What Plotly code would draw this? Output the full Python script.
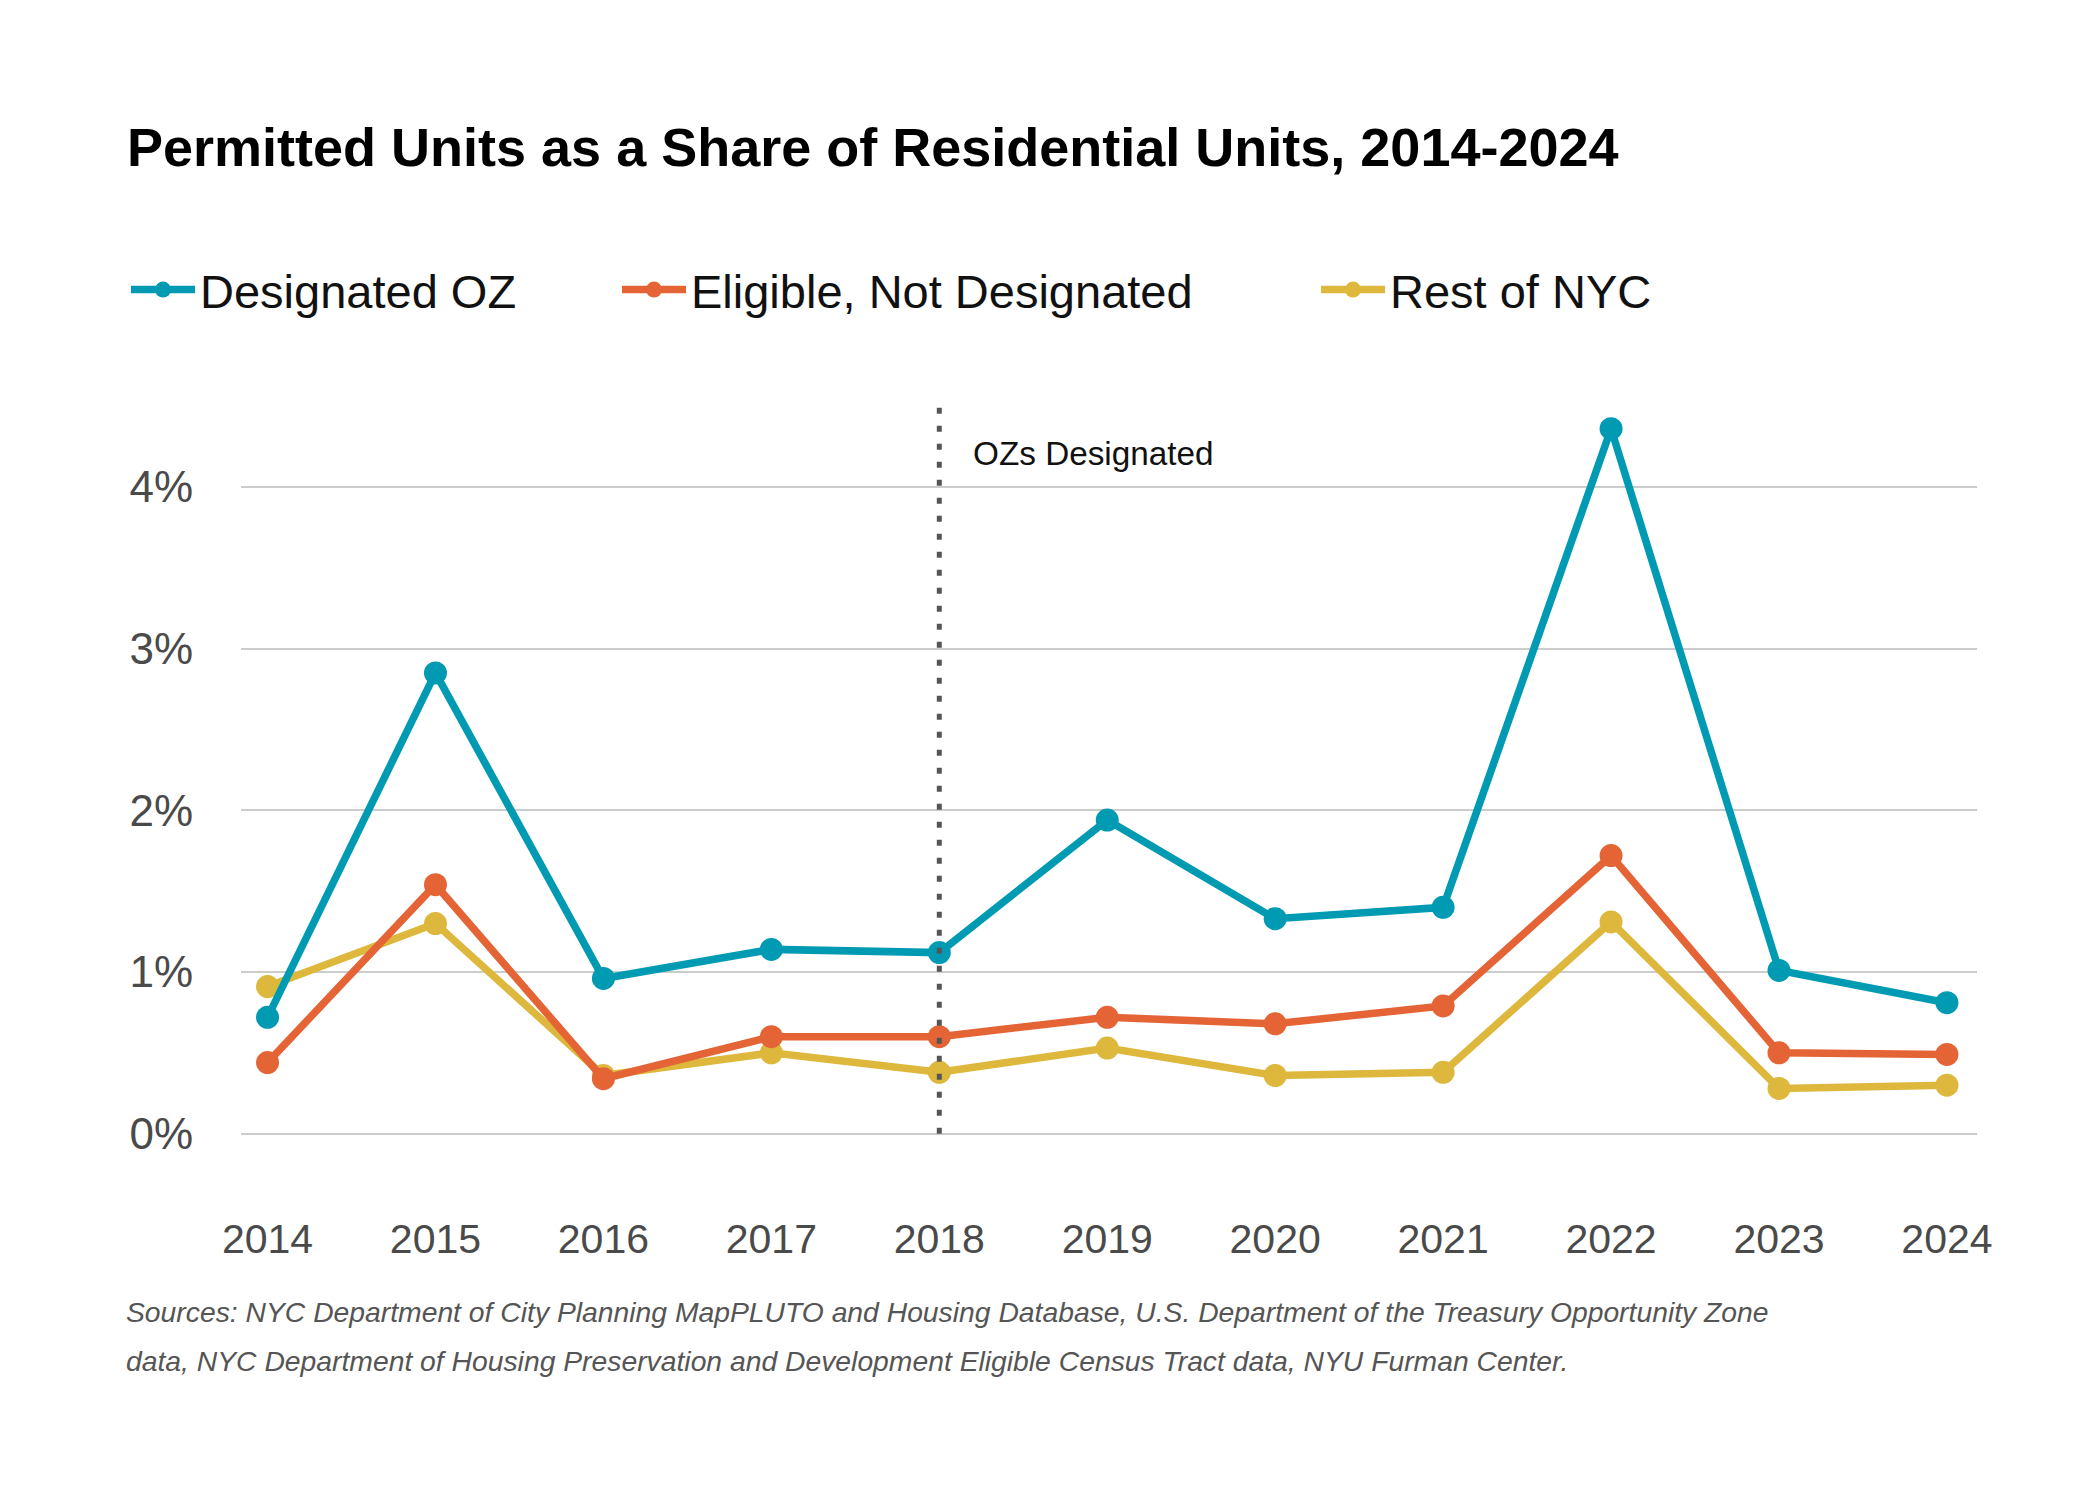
import plotly.graph_objects as go

years = [2014, 2015, 2016, 2017, 2018, 2019, 2020, 2021, 2022, 2023, 2024]
designated_oz = [0.72, 2.85, 0.96, 1.14, 1.12, 1.94, 1.33, 1.40, 4.36, 1.01, 0.81]
eligible_not_designated = [0.44, 1.54, 0.34, 0.60, 0.60, 0.72, 0.68, 0.79, 1.72, 0.50, 0.49]
rest_of_nyc = [0.91, 1.30, 0.36, 0.50, 0.38, 0.53, 0.36, 0.38, 1.31, 0.28, 0.30]

y_ticks = [0, 1, 2, 3, 4]
y_tick_labels = ["0%", "1%", "2%", "3%", "4%"]
designation_year = 2018

W, H = 2100, 1500
L, R, T, B = 233, 131, 396, 308
pw = W - L - R
ph = H - T - B
Y_TOP = 4.513
Y_BOT = -0.41

def px_x(px):
    return (px - L) / pw

def px_y(py):
    return (H - B - py) / ph

series = [
    ("Rest of NYC", rest_of_nyc, "#DDB83C", "legend3"),
    ("Eligible, Not Designated", eligible_not_designated, "#E46436", "legend2"),
    ("Designated OZ", designated_oz, "#009BB3", "legend"),
]

fig = go.Figure()
for name, vals, color, lg in series:
    fig.add_trace(go.Scatter(
        x=years, y=vals, name=name, mode="lines+markers",
        line=dict(color=color, width=7.5),
        marker=dict(color=color, size=23),
        legend=lg,
        hovertemplate="%{x}: %{y:.2f}%<extra>" + name + "</extra>",
    ))

fig.add_shape(type="line", xref="x", yref="y", x0=designation_year, x1=designation_year,
              y0=0, y1=Y_TOP, line=dict(color="#555555", width=5, dash="6px,12px"))

fig.add_annotation(text="OZs Designated", xref="paper", yref="paper",
                   x=px_x(963), y=px_y(445),
                   xanchor="left", yanchor="middle", showarrow=False,
                   font=dict(family="Liberation Sans, Arial", size=33.3, color="#111111"))

font_leg = dict(family="Liberation Sans, Arial", size=47, color="#111111")
def leg(xpx):
    return dict(orientation="h", x=px_x(xpx), xanchor="left", y=px_y(282), yanchor="middle",
                font=font_leg, itemwidth=64, bgcolor="rgba(0,0,0,0)", borderwidth=0,
                itemclick=False, itemdoubleclick=False)

src_font = dict(family="Liberation Sans, Arial", size=28.3, color="#555555", style="italic")
fig.add_annotation(text="Sources: NYC Department of City Planning MapPLUTO and Housing Database, U.S. Department of the Treasury Opportunity Zone",
                   xref="paper", yref="paper", x=px_x(116), y=px_y(1304), xanchor="left", yanchor="middle",
                   showarrow=False, font=src_font)
fig.add_annotation(text="data, NYC Department of Housing Preservation and Development Eligible Census Tract data, NYU Furman Center.",
                   xref="paper", yref="paper", x=px_x(116), y=px_y(1353), xanchor="left", yanchor="middle",
                   showarrow=False, font=src_font)

fig.update_layout(
    width=W, height=H,
    margin=dict(l=L, r=R, t=T, b=B, autoexpand=False),
    paper_bgcolor="white", plot_bgcolor="white",
    title=dict(text="<b>Permitted Units as a Share of Residential Units, 2014-2024</b>",
               xref="container", yref="container", x=119 / W, xanchor="left",
               y=1 - 139 / H, yanchor="middle",
               font=dict(family="Liberation Sans, Arial", size=54, color="#000000")),
    legend=leg(118), legend2=leg(609), legend3=leg(1308),
    xaxis=dict(range=[2013.842, 2024.179], tickvals=years, ticktext=[str(y) for y in years],
               showgrid=False, zeroline=False, showline=False,
               ticks="outside", ticklen=3, tickcolor="rgba(0,0,0,0)",
               tickfont=dict(family="Liberation Sans, Arial", size=41, color="#4a4a4a")),
    yaxis=dict(range=[Y_BOT, Y_TOP], tickvals=y_ticks, ticktext=y_tick_labels,
               showgrid=True, gridcolor="#cccccc", gridwidth=2, zeroline=False, showline=False,
               ticklabelstandoff=47,
               tickfont=dict(family="Liberation Sans, Arial", size=44, color="#4a4a4a")),
    showlegend=True,
)

fig.write_html("out.html")
